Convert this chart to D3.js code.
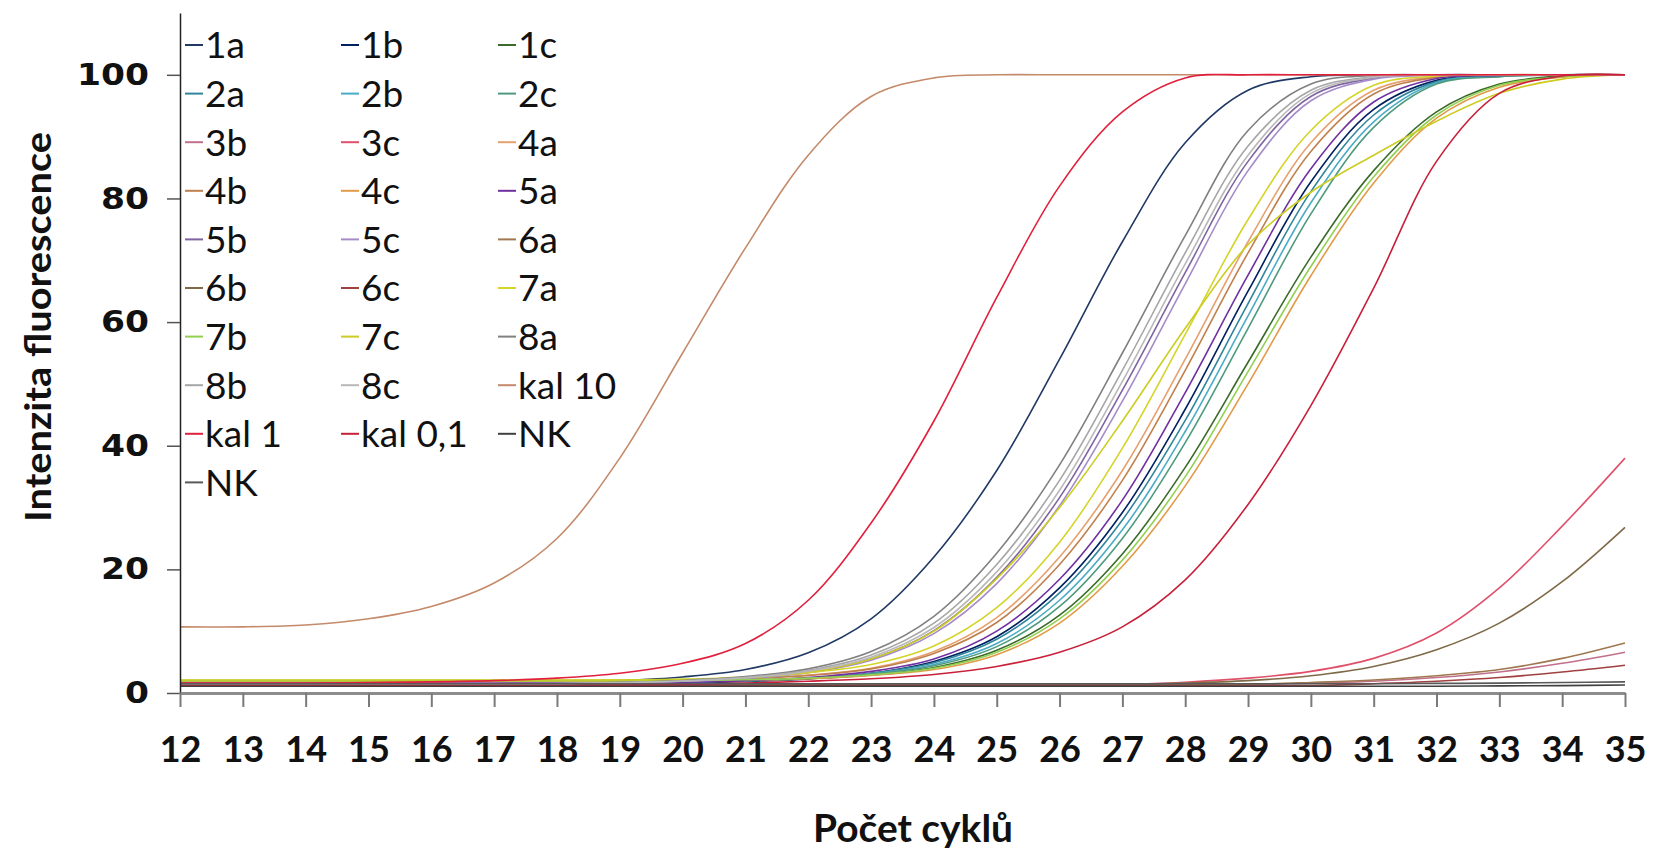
<!DOCTYPE html>
<html>
<head>
<meta charset="utf-8">
<script src="https://cdn.jsdelivr.net/npm/d3@7"></script>
<style>
  html, body { margin: 0; padding: 0; background: #ffffff; }
  svg { display: block; }
</style>
</head>
<body>
<svg id="chart" width="1655" height="855"></svg>
<script>
// qPCR amplification curves: fluorescence intensity per cycle (cycles 12–35)
const cycles = [12,13,14,15,16,17,18,19,20,21,22,23,24,25,26,27,28,29,30,31,32,33,34,35];
const yTicks = [0,20,40,60,80,100];

const s1a = [1.5,1.5,1.5,1.5,1.5,1.5,1.7,2.0,2.6,3.8,6.5,12,22,36,54,73,89,97.5,99.7,100,100,100,100,100];
const s1b = [1.5,1.5,1.5,1.5,1.5,1.5,1.5,1.5,1.6,1.87,2.29,3.17,5.1,9.1,17,29.2,45.9,65,82.7,94.4,99.1,99.9,100,100];
const s1c = [1.9,1.9,1.9,1.9,1.9,1.9,1.9,1.9,1.95,2.05,2.3,2.9,4.1,6.9,12.6,22.5,36.5,53.5,70.5,84.5,94,98.5,99.8,100];
const s2a = [1.7,1.7,1.7,1.7,1.7,1.7,1.7,1.7,1.75,2.0,2.4,3.2,4.9,8.7,16.2,28,44.1,63,81.1,93.5,98.9,99.8,100,100];
const s2b = [1.7,1.7,1.7,1.7,1.7,1.7,1.7,1.7,1.8,2.0,2.35,3.1,4.6,8.0,15,26.4,42.3,61,79.3,92.4,98.7,99.7,100,100];
const s2c = [1.8,1.8,1.8,1.8,1.8,1.8,1.8,1.8,1.85,2.0,2.35,3.05,4.4,7.5,14,25,40.5,59,77.5,91.5,98.5,99.7,100,100];
const s3b = [1.3,1.3,1.3,1.3,1.3,1.3,1.3,1.3,1.3,1.3,1.3,1.3,1.3,1.3,1.3,1.3,1.3,1.3,1.6,1.9,2.5,3.4,4.8,6.6];
const s3c = [1.3,1.3,1.3,1.3,1.3,1.3,1.3,1.3,1.3,1.3,1.3,1.3,1.3,1.3,1.3,1.4,1.75,2.4,3.5,5.6,9.7,17,27,38];
const s4a = [1.8,1.8,1.8,1.8,1.8,1.8,1.8,1.8,2.0,2.3,2.9,4.0,6.7,12.2,22,36,54,73,89,97.5,99.7,100,100,100];
const s4b = [1.8,1.8,1.8,1.8,1.8,1.8,1.8,1.8,1.98,2.27,2.83,3.9,6.4,11.4,20.8,34.4,52.2,71.2,87.6,96.9,99.6,100,100,100];
const s4c = [1.9,1.9,1.9,1.9,1.9,1.9,1.9,1.9,1.95,2.05,2.3,2.85,3.8,6.2,11.3,20.5,33.5,50,67.5,82.5,93,98,99.6,100];
const s5a = [1.6,1.6,1.6,1.6,1.6,1.6,1.6,1.65,1.75,2.0,2.5,3.5,5.5,10.0,18.4,31.2,48.6,67.6,84.8,95.6,99.4,99.9,100,100];
const s5b = [1.55,1.55,1.55,1.55,1.55,1.55,1.55,1.66,1.92,2.4,3.4,5.5,10.1,18.7,31.6,49,68,86,96.5,99.5,100,100,100,100];
const s5c = [1.55,1.55,1.55,1.55,1.55,1.55,1.55,1.64,1.89,2.33,3.27,5.3,9.6,17.7,30.3,47.2,66.2,84.5,95.8,99.3,99.9,100,100,100];
const s6a = [1.4,1.4,1.4,1.4,1.4,1.4,1.4,1.4,1.4,1.4,1.4,1.4,1.4,1.4,1.4,1.4,1.4,1.4,1.7,2.1,2.8,3.8,5.6,8.1];
const s6b = [1.4,1.4,1.4,1.4,1.4,1.4,1.4,1.4,1.4,1.4,1.4,1.4,1.4,1.4,1.4,1.4,1.6,2.0,2.8,4.3,7.0,11.3,18,26.8];
const s6c = [1.2,1.2,1.2,1.2,1.2,1.2,1.2,1.2,1.2,1.2,1.2,1.2,1.2,1.2,1.2,1.2,1.2,1.2,1.2,1.5,1.9,2.5,3.4,4.5];
const s7a = [2.0,2.0,2.0,2.0,2.0,2.0,2.0,2.1,2.25,2.6,3.3,4.6,7.6,13.8,24.4,39.6,58,76.6,91,98.3,99.8,100,100,100];
const s7b = [2.0,2.0,2.0,2.0,2.0,2.0,2.0,2.0,2.05,2.15,2.4,2.95,4.0,6.6,12.0,21.5,35,52,69,83.5,93.5,98.3,99.7,100];
const s7c = [2.1,2.1,2.1,2.1,2.1,2.1,2.1,2.1,2.15,2.5,3.4,5.5,10,18.5,30,44,59,72.5,81,87,92.5,97,99.3,100];
const s8a = [1.5,1.5,1.5,1.5,1.5,1.5,1.5,1.72,2.03,2.65,3.9,6.7,12.4,22.6,36.9,55,74,91,98.5,99.9,100,100,100,100];
const s8b = [1.5,1.5,1.5,1.5,1.5,1.5,1.5,1.68,1.97,2.53,3.66,6.14,11.3,20.8,34.4,52.2,71.2,88.5,97.5,99.7,100,100,100,100];
const s8c = [1.5,1.5,1.5,1.5,1.5,1.5,1.5,1.66,1.94,2.46,3.52,5.8,10.6,19.6,32.8,50.4,69.4,87,97,99.6,100,100,100,100];
const kal10 = [10.7,10.7,11.0,12.0,14.0,17.8,25,38,55,72,87,96.5,99.5,100,100,100,100,100,100,100,100,100,100,100];
const kal1 = [1.6,1.6,1.6,1.7,1.8,2.0,2.4,3.2,4.8,8.0,15,27.5,44,64,82,94,99.5,100,100,100,100,100,100,100];
const kal01 = [1.2,1.2,1.2,1.2,1.2,1.2,1.2,1.25,1.4,1.6,1.9,2.3,3.0,4.3,6.6,10.7,18.3,30.5,46.5,65.5,86,97,99.8,100];
const nk1 = [1.1,1.1,1.1,1.1,1.1,1.1,1.1,1.1,1.1,1.1,1.1,1.1,1.1,1.1,1.1,1.1,1.1,1.1,1.1,1.1,1.1,1.15,1.2,1.3];
const nk2 = [1.5,1.5,1.5,1.5,1.5,1.5,1.5,1.5,1.5,1.5,1.5,1.5,1.5,1.5,1.5,1.5,1.5,1.5,1.5,1.5,1.55,1.6,1.7,1.8];

// legend order (row by row, three columns)
const seriesNames = ["1a","1b","1c","2a","2b","2c","3b","3c","4a","4b","4c","5a","5b","5c",
  "6a","6b","6c","7a","7b","7c","8a","8b","8c","kal 10","kal 1","kal 0,1","NK","NK"];
const seriesValues = [s1a,s1b,s1c,s2a,s2b,s2c,s3b,s3c,s4a,s4b,s4c,s5a,s5b,s5c,
  s6a,s6b,s6c,s7a,s7b,s7c,s8a,s8b,s8c,kal10,kal1,kal01,nk1,nk2];
const seriesColors = ["#1f3864","#002060","#3a6b2a","#31859c","#4bacc6","#4e9a7e","#c0708a","#e0506a",
  "#e6a06e","#c0804d","#e29a48","#7030a0","#8064a2","#a58cc8",
  "#a07850","#7f6a48","#a04040","#d4d42a","#92d050","#cccc22","#808080","#a6a6a6","#b8b8b8",
  "#c48a6a","#e0203c","#c8203a","#404040","#595959"];

const plot = { left: 180, right: 1625, top: 13, bottom: 693 };

const svg = d3.select("#chart");

const x = d3.scaleLinear().domain([12, 35]).range([plot.left, plot.right]);
const y = d3.scaleLinear().domain([0, 110]).range([plot.bottom, plot.top]);

// curves
const line = d3.line()
  .x((d, i) => x(cycles[i]))
  .y(d => y(d))
  .curve(d3.curveCatmullRom.alpha(0.5));

svg.append("g")
  .selectAll("path")
  .data(seriesValues)
  .join("path")
  .attr("d", d => line(d))
  .attr("fill", "none")
  .attr("stroke", (d, i) => seriesColors[i])
  .attr("stroke-width", 1.6);

// y axis
const yAxis = svg.append("g")
  .attr("transform", `translate(${plot.left},0)`)
  .call(d3.axisLeft(y).tickValues(yTicks).tickSize(13).tickSizeOuter(0).tickPadding(18));
yAxis.select(".domain").attr("stroke", "#222").attr("stroke-width", 1.5);
yAxis.selectAll(".tick line").attr("stroke", "#555").attr("stroke-width", 1.5);
yAxis.selectAll(".tick text")
  .attr("font-family", "'DejaVu Sans', sans-serif")
  .attr("font-weight", "bold")
  .attr("font-size", 30)
  .attr("fill", "#111")
  .each(function () {
    const t = d3.select(this);
    const xx = +t.attr("x");
    t.attr("x", null).attr("transform", `translate(${xx},0) scale(1.15,1)`);
  });

// x axis
const xAxis = svg.append("g")
  .attr("transform", `translate(0,${plot.bottom})`)
  .call(d3.axisBottom(x).tickValues(cycles).tickSize(14).tickSizeOuter(0).tickPadding(29));
xAxis.select(".domain").attr("stroke", "#8c8c8c").attr("stroke-width", 3);
xAxis.selectAll(".tick line").attr("stroke", "#7a7a7a").attr("stroke-width", 2);
xAxis.selectAll(".tick text")
  .attr("font-family", "Lato, sans-serif")
  .attr("font-weight", "bold")
  .attr("font-size", 36)
  .attr("fill", "#111");

// axis titles
svg.append("text")
  .attr("transform", "translate(37,327) rotate(-90)")
  .attr("text-anchor", "middle")
  .attr("dominant-baseline", "central")
  .attr("font-family", "Lato, sans-serif")
  .attr("font-weight", "bold")
  .attr("font-size", 36)
  .attr("textLength", 390)
  .attr("lengthAdjust", "spacingAndGlyphs")
  .attr("fill", "#111")
  .text("Intenzita fluorescence");

svg.append("text")
  .attr("x", 913)
  .attr("y", 842)
  .attr("text-anchor", "middle")
  .attr("font-family", "Lato, sans-serif")
  .attr("font-weight", "bold")
  .attr("font-size", 38)
  .attr("textLength", 200)
  .attr("lengthAdjust", "spacingAndGlyphs")
  .attr("fill", "#111")
  .text("Počet cyklů");

// legend
const legCols = [185, 341, 498];
const legRow0 = 45, legRowStep = 48.6;
const legend = svg.append("g")
  .selectAll("g")
  .data(seriesNames)
  .join("g")
  .attr("transform", (d, i) => `translate(${legCols[i % 3]},${legRow0 + Math.floor(i / 3) * legRowStep})`);
legend.append("line")
  .attr("x1", 0).attr("x2", 18)
  .attr("y1", 0).attr("y2", 0)
  .attr("stroke", (d, i) => seriesColors[i])
  .attr("stroke-width", 2);
legend.append("text")
  .attr("x", 20)
  .attr("y", 0)
  .attr("dy", "0.36em")
  .attr("font-family", "Lato, sans-serif")
  .attr("font-size", 37)
  .attr("fill", "#111")
  .text(d => d);
</script>
</body>
</html>
